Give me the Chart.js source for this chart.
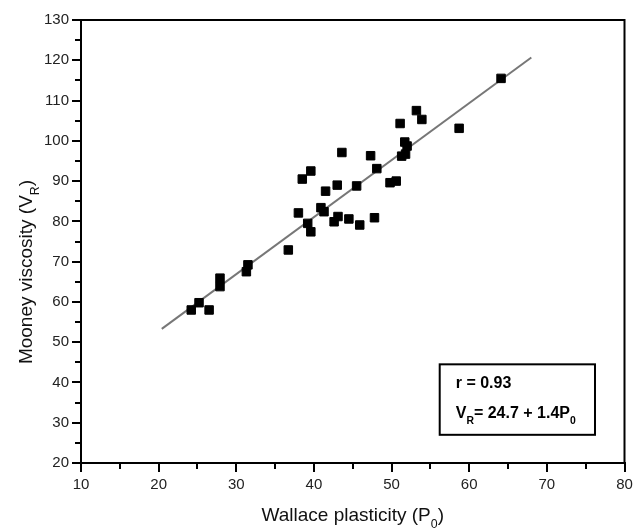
<!DOCTYPE html>
<html>
<head>
<meta charset="utf-8">
<script src="https://cdn.jsdelivr.net/npm/chart.js@4"></script>
<style>
  html, body { margin: 0; padding: 0; background: #fff; }
  #wrap { width: 634px; height: 528px; }
</style>
</head>
<body>
<div id="wrap"><canvas id="mycanvas"></canvas></div>
<script>
// Wallace plasticity (P0) vs Mooney viscosity (VR)
var plasticity = [24.2, 25.2, 26.5, 27.9, 27.9, 31.5, 31.3, 36.7, 38.0, 38.5, 39.6, 39.2, 39.6,
  40.9, 41.3, 41.5, 42.6, 43.1, 43.0, 43.6, 44.5, 45.5, 45.9, 47.3, 48.1, 47.8, 49.8, 50.6,
  51.1, 51.7, 52.0, 51.3, 51.8, 53.2, 53.9, 58.7, 64.1];
var viscosity = [58.0, 59.8, 58.0, 65.9, 63.8, 69.2, 67.5, 72.9, 82.1, 90.5, 92.5, 79.5, 77.4,
  83.4, 82.4, 87.5, 79.9, 81.2, 89.0, 97.1, 80.6, 88.8, 79.1, 96.3, 93.1, 80.9, 89.6, 90.0,
  104.3, 99.7, 98.7, 96.2, 96.7, 107.5, 105.3, 103.1, 115.5];

// fitted line end points
var fitX = [20.4, 68.0];
var fitY = [53.3, 120.7];

var xTicks = [10, 20, 30, 40, 50, 60, 70, 80];
var yTicks = [20, 30, 40, 50, 60, 70, 80, 90, 100, 110, 120, 130];

var FONT = "'Liberation Sans', Arial, sans-serif";

var points = [];
for (var i = 0; i < plasticity.length; i++) {
  points.push({x: plasticity[i], y: viscosity[i]});
}
var fit = [];
for (var j = 0; j < fitX.length; j++) {
  fit.push({x: fitX[j], y: fitY[j]});
}

// draws text pieces, some of them as subscripts
function drawRich(ctx, parts, x, y, size, bold) {
  var w = 0;
  parts.forEach(function(p){
    var s = p.sub ? size * 0.65 : size;
    ctx.font = (bold ? 'bold ' : '') + s + 'px ' + FONT;
    ctx.fillText(p.t, x + w, y + (p.sub ? size * 0.38 : 0));
    w += ctx.measureText(p.t).width;
  });
  return w;
}
function richWidth(ctx, parts, size, bold) {
  var w = 0;
  parts.forEach(function(p){
    var s = p.sub ? size * 0.65 : size;
    ctx.font = (bold ? 'bold ' : '') + s + 'px ' + FONT;
    w += ctx.measureText(p.t).width;
  });
  return w;
}

var extras = {
  id: 'extras',
  afterDraw: function(chart) {
    var ctx = chart.ctx;
    var a = chart.chartArea;
    var xs = chart.scales.x, ys = chart.scales.y;
    ctx.save();
    ctx.strokeStyle = '#000';
    ctx.fillStyle = '#111';

    // top and right frame
    ctx.lineWidth = 2;
    ctx.beginPath();
    ctx.moveTo(a.left, a.top);
    ctx.lineTo(a.right, a.top);
    ctx.lineTo(a.right, a.bottom);
    ctx.stroke();

    // minor ticks
    ctx.lineWidth = 2;
    ctx.beginPath();
    for (var v = 15; v < 80; v += 10) {
      var px = Math.round(xs.getPixelForValue(v));
      ctx.moveTo(px, a.bottom);
      ctx.lineTo(px, a.bottom + 6);
    }
    for (var u = 25; u < 130; u += 10) {
      var py = Math.round(ys.getPixelForValue(u));
      ctx.moveTo(a.left, py);
      ctx.lineTo(a.left - 6, py);
    }
    ctx.stroke();

    // axis titles
    ctx.textBaseline = 'alphabetic';
    ctx.textAlign = 'left';
    var xt = [{t: 'Wallace plasticity (P'}, {t: '0', sub: true}, {t: ')'}];
    var xw = richWidth(ctx, xt, 19);
    drawRich(ctx, xt, (a.left + a.right) / 2 - xw / 2, 521, 19);

    var yt = [{t: 'Mooney viscosity (V'}, {t: 'R', sub: true}, {t: ')'}];
    var yw = richWidth(ctx, yt, 19);
    ctx.save();
    ctx.translate(32, 272);
    ctx.rotate(-Math.PI / 2);
    drawRich(ctx, yt, -yw / 2, 0, 19);
    ctx.restore();

    // annotation box
    var bx = xs.getPixelForValue(56.2), by = ys.getPixelForValue(44.5);
    var bx2 = xs.getPixelForValue(76.2), by2 = ys.getPixelForValue(27.0);
    ctx.lineWidth = 2;
    ctx.strokeRect(bx, by, bx2 - bx, by2 - by);
    ctx.fillStyle = '#000';
    drawRich(ctx, [{t: 'r = 0.93'}], bx + 16, by + 24, 16, true);
    drawRich(ctx, [{t: 'V'}, {t: 'R', sub: true}, {t: '= 24.7 + 1.4P'}, {t: '0', sub: true}],
      bx + 16, by + 54, 16, true);

    ctx.restore();
  }
};

var ctx = document.getElementById('mycanvas');

var scatterChart = new Chart(ctx, {
  type: 'scatter',
  data: {
    datasets: [
      {
        label: 'samples',
        data: points,
        pointStyle: 'rect',
        pointRadius: 6,
        pointBackgroundColor: '#000',
        pointBorderColor: '#000',
        pointBorderWidth: 1,
        order: 1
      },
      {
        label: 'fit',
        data: fit,
        showLine: true,
        borderColor: '#777',
        borderWidth: 2,
        pointRadius: 0,
        order: 2
      }
    ]
  },
  options: {
    responsive: true,
    maintainAspectRatio: false,
    animation: false,
    layout: { padding: { top: 20, right: 9.5, left: 0, bottom: 0 } },
    plugins: {
      legend: { display: false },
      tooltip: { enabled: false }
    },
    scales: {
      x: {
        type: 'linear',
        min: 10,
        max: 80,
        afterBuildTicks: function(s){ s.ticks = xTicks.map(function(v){ return {value: v}; }); },
        afterFit: function(s){ s.height = 65; s.paddingRight = 0; s.paddingLeft = 0; },
        ticks: { color: '#222', font: { family: FONT, size: 15 }, padding: 4, maxRotation: 0 },
        grid: { drawOnChartArea: false, tickLength: 9, color: '#000', lineWidth: 2 },
        border: { color: '#000', width: 2 }
      },
      y: {
        type: 'linear',
        min: 20,
        max: 130,
        afterBuildTicks: function(s){ s.ticks = yTicks.map(function(v){ return {value: v}; }); },
        afterFit: function(s){ s.width = 81; },
        ticks: { color: '#222', font: { family: FONT, size: 15 }, padding: 3 },
        grid: { drawOnChartArea: false, tickLength: 9, color: '#000', lineWidth: 2 },
        border: { color: '#000', width: 2 }
      }
    }
  },
  plugins: [extras]
});
</script>
</body>
</html>
